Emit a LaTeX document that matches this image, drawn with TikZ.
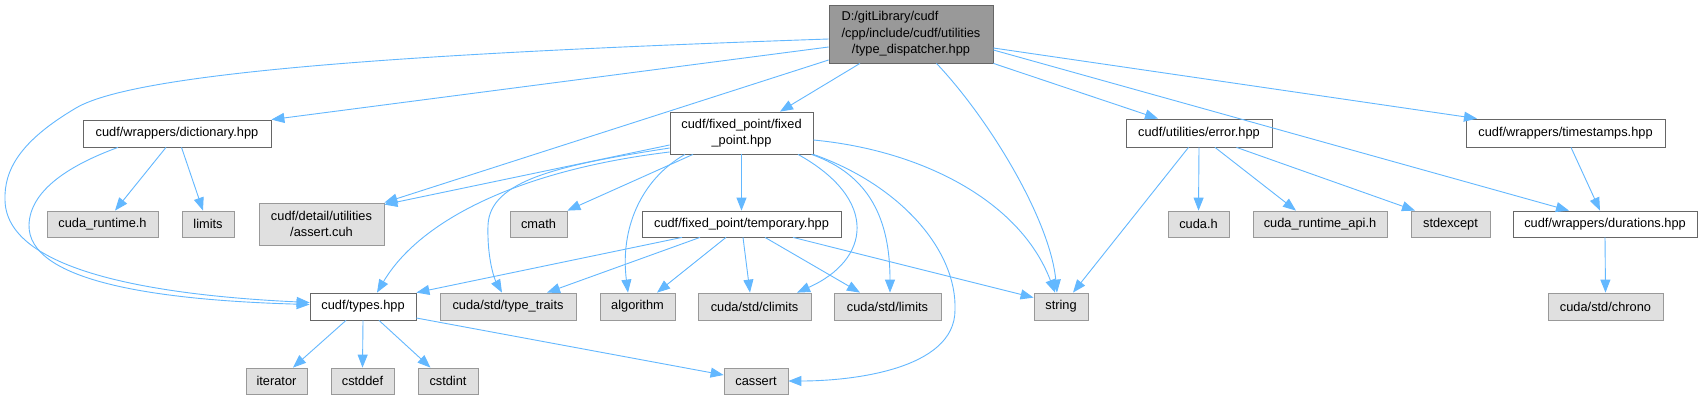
\documentclass[tikz,border=0pt]{standalone}
\usepackage{fontspec}
\setmainfont{Liberation Sans}
\usetikzlibrary{arrows.meta}
\definecolor{edgec}{HTML}{63B8FF}
\definecolor{bordk}{HTML}{666666}
\definecolor{bordl}{HTML}{999999}
\definecolor{fillleaf}{HTML}{E0E0E0}
\definecolor{fillroot}{HTML}{999999}
\newlength\rootw
\begin{document}
\begin{tikzpicture}[x=1pt,y=-1pt,
  box/.style={draw=bordk, fill=white, line width=0.8pt, inner sep=0pt, align=center,
    font=\fontsize{12.8}{16.6}\selectfont, minimum height=27},
  leaf/.style={box, draw=bordl, fill=fillleaf, minimum height=26},
  rootbox/.style={box, fill=fillroot, draw=bordk},
  edge/.style={draw=edgec, line width=0.9pt, -{Triangle[length=13pt,width=10pt]}}]
\useasboundingbox (0,0) rectangle (1703,400);
\fill[white] (0,0) rectangle (1703,400);

% nodes
\node[rootbox, minimum width=164, minimum height=58] (root) at (911,34)
  {\settowidth{\rootw}{/cpp/include/cudf/utilities}\makebox[\rootw][l]{D:/gitLibrary/cudf}\\/cpp/include/cudf/utilities\\/type\_dispatcher.hpp};
\node[box, minimum width=188] (dict) at (177,133.5) {cudf/wrappers/dictionary.hpp};
\node[box, minimum width=143, minimum height=42] (fixed) at (741.5,133) {cudf/fixed\_point/fixed\\\_point.hpp};
\node[box, minimum width=146, minimum height=28] (error) at (1199,133) {cudf/utilities/error.hpp};
\node[box, minimum width=199, minimum height=28] (timestamps) at (1565.5,133) {cudf/wrappers/timestamps.hpp};

\node[leaf, minimum width=111] (cudart) at (102.5,224) {cuda\_runtime.h};
\node[leaf, minimum width=52] (limits) at (208,224) {limits};
\node[leaf, minimum width=125, minimum height=42] (assert) at (321.5,224) {cudf/detail/utilities\\/assert.cuh};
\node[leaf, minimum width=57] (cmath) at (538.5,224) {cmath};
\node[box, minimum width=199, minimum height=26] (temporary) at (741.5,224) {cudf/fixed\_point/temporary.hpp};
\node[leaf, minimum width=61] (cudah) at (1198.5,224) {cuda.h};
\node[leaf, minimum width=134] (cudaapi) at (1320,224) {cuda\_runtime\_api.h};
\node[leaf, minimum width=79] (stdexcept) at (1450.5,224) {stdexcept};
\node[box, minimum width=184, minimum height=26] (durations) at (1605,224) {cudf/wrappers/durations.hpp};

\node[box, minimum width=106] (types) at (363,306.5) {cudf/types.hpp};
\node[leaf, minimum width=136, minimum height=27] (traits) at (508,306.5) {cuda/std/type\_traits};
\node[leaf, minimum width=75, minimum height=27] (algorithm) at (637.5,306.5) {algorithm};
\node[leaf, minimum width=113, minimum height=27] (climits) at (754.5,306.5) {cuda/std/climits};
\node[leaf, minimum width=107, minimum height=27] (cudalimits) at (887.5,306.5) {cuda/std/limits};
\node[leaf, minimum width=54, minimum height=27] (string) at (1061,306.5) {string};
\node[leaf, minimum width=115, minimum height=27] (chrono) at (1605.5,306.5) {cuda/std/chrono};

\node[leaf, minimum width=61] (iterator) at (276.5,381) {iterator};
\node[leaf, minimum width=63] (cstddef) at (362.5,381) {cstddef};
\node[leaf, minimum width=60] (cstdint) at (448,381) {cstdint};
\node[leaf, minimum width=64] (cassert) at (756,381) {cassert};

% root edges
\draw[edge] ([yshift=-5pt]root.west) .. controls (450,52) and (140,70) .. (76,108)
  .. controls (20,141) and (4,170) .. (5,200)
  .. controls (6,270) and (150,295) .. ([yshift=4pt]types.west);
\draw[edge] ([yshift=-13pt]root.west) -- (dict.north east);
\draw[edge] ([yshift=-26pt]root.west) -- (assert.north east);
\draw[edge] ([xshift=-51pt]root.south) -- ([xshift=38.5pt]fixed.north);
\draw[edge] ([xshift=25.5pt]root.south) .. controls (990,120) and (1050,220) .. ([xshift=-4pt]string.north);
\draw[edge] (root.south east) -- ([xshift=-41pt]error.north);
\draw[edge] ([yshift=-16pt]root.east) -- ([xshift=-36pt]durations.north);
\draw[edge] ([yshift=-14pt]root.east) -- ([xshift=-88.5pt]timestamps.north);

% dictionary edges
\draw[edge] ([xshift=-59pt]dict.south) .. controls (70,165) and (30,190) .. (29,225)
  .. controls (28,280) and (150,300) .. ([yshift=2pt]types.west);
\draw[edge] ([xshift=-11pt]dict.south) -- ([xshift=12.5pt]cudart.north);
\draw[edge] ([xshift=4.5pt]dict.south) -- ([xshift=-5pt]limits.north);

% fixed_point edges
\draw[edge] ([yshift=-12pt]fixed.west) -- ([yshift=-2pt]assert.north east);
\draw[edge] ([yshift=-19pt]fixed.west) .. controls (520,170) and (420,220) .. ([xshift=14pt]types.north);
\draw[edge] ([yshift=-15pt]fixed.west) .. controls (560,165) and (490,180) .. (488,225)
  .. controls (487,260) and (495,280) .. ([xshift=-6pt]traits.north);
\draw[edge] ([xshift=-48.5pt]fixed.south) -- (cmath.north east);
\draw[edge] ([xshift=-56.5pt]fixed.south) .. controls (640,180) and (620,230) .. ([xshift=-9.5pt]algorithm.north);
\draw[edge] (fixed.south) -- (temporary.north);
\draw[edge] ([xshift=56.5pt]fixed.south) .. controls (880,200) and (870,260) .. ([xshift=42.5pt]climits.north);
\draw[edge] ([xshift=70pt]fixed.south) .. controls (870,175) and (890,220) .. ([xshift=2.5pt]cudalimits.north);
\draw[edge] (fixed.south east) .. controls (900,185) and (957,250) .. (955,310)
  .. controls (955,370) and (850,381) .. (cassert.east);
\draw[edge] ([yshift=-7pt]fixed.east) .. controls (920,150) and (1020,200) .. ([xshift=-6pt]string.north);

% temporary edges
\draw[edge] ([xshift=-59.5pt]temporary.south) -- (types.north east);
\draw[edge] ([xshift=-41.5pt]temporary.south) -- ([xshift=39pt]traits.north);
\draw[edge] ([xshift=-15.5pt]temporary.south) -- ([xshift=19.5pt]algorithm.north);
\draw[edge] ([xshift=1.5pt]temporary.south) -- ([xshift=-4.5pt]climits.north);
\draw[edge] ([xshift=23.5pt]temporary.south) -- ([xshift=-27.5pt]cudalimits.north);
\draw[edge] ([xshift=51.5pt]temporary.south) -- ([yshift=-5pt]string.north west);

% types edges
\draw[edge] ([xshift=-17pt]types.south) -- ([xshift=16.5pt]iterator.north);
\draw[edge] (types.south) -- (cstddef.north);
\draw[edge] ([xshift=16pt]types.south) -- ([xshift=-17.5pt]cstdint.north);
\draw[edge] ([yshift=-11.5pt]types.east) -- ([yshift=6pt]cassert.west);

% error edges
\draw[edge] ([xshift=-10.5pt]error.south) -- ([xshift=12pt]string.north);
\draw[edge] (error.south) -- (cudah.north);
\draw[edge] ([xshift=16pt]error.south) -- ([xshift=-24pt]cudaapi.north);
\draw[edge] ([xshift=37.5pt]error.south) -- ([xshift=-35.5pt]stdexcept.north);

% wrappers
\draw[edge] ([xshift=5.5pt]timestamps.south) -- ([xshift=-5pt]durations.north);
\draw[edge] (durations.south) -- (chrono.north);
\end{tikzpicture}
\end{document}
